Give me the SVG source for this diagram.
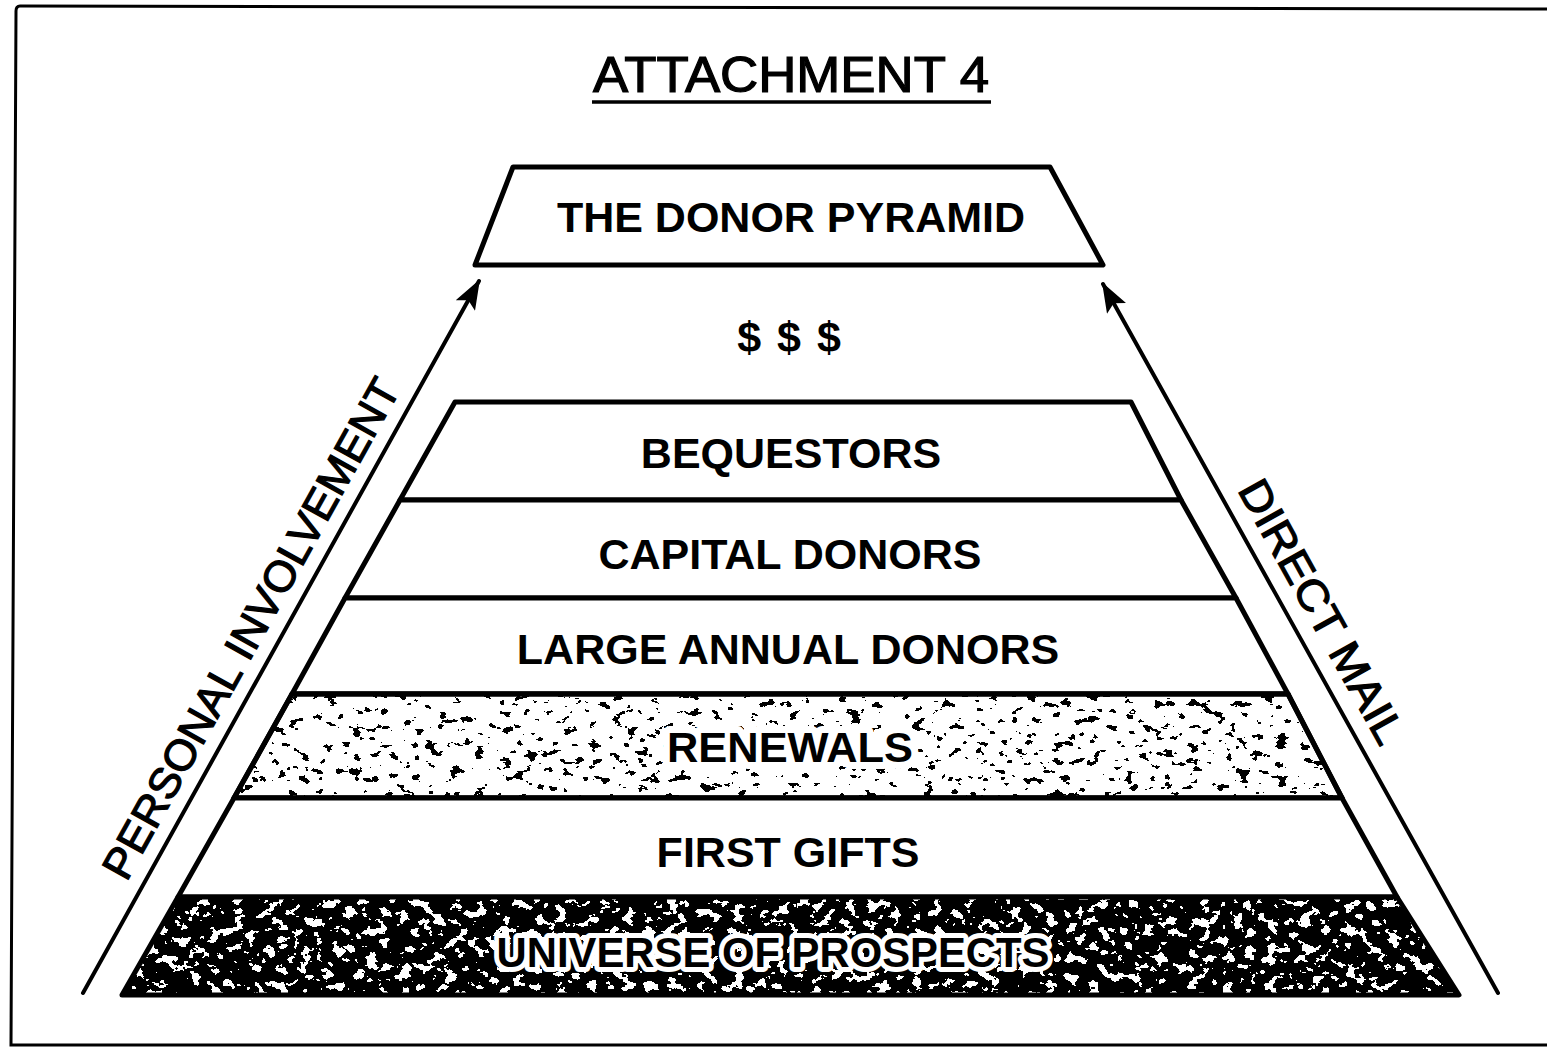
<svg xmlns="http://www.w3.org/2000/svg" width="1547" height="1048" viewBox="0 0 1547 1048">
  <defs>
    <style>
      .band { fill: #fff; stroke: #000; stroke-width: 5; stroke-linejoin: round; }
      .edge { fill: none; stroke: #000; stroke-width: 5; stroke-linejoin: round; }
      .lbl { font-family: "Liberation Sans", Arial, Helvetica, sans-serif; font-weight: bold; font-size: 43px; fill: #000; text-anchor: middle; }
      .side { font-family: "Liberation Sans", Arial, Helvetica, sans-serif; font-size: 43px; fill: #000; stroke: #000; stroke-width: 1.2; text-anchor: middle; }
      .halo { paint-order: stroke; stroke: #fff; stroke-linejoin: round; }
      .conn { fill: none; stroke: #000; stroke-width: 4; stroke-linecap: round; }
    </style>
    <marker id="head" viewBox="0 0 30 22" refX="28" refY="11" markerWidth="30" markerHeight="22" markerUnits="userSpaceOnUse" orient="auto">
      <path d="M0,0 L30,11 L0,22 L6,11 Z" fill="#000"/>
    </marker>
    <!-- sparse black grain for the light band -->
    <filter id="grainLight" x="0" y="0" width="1" height="1" color-interpolation-filters="sRGB">
      <feTurbulence type="fractalNoise" baseFrequency="0.08 0.12" numOctaves="3" seed="7" result="noise"/>
      <feColorMatrix in="noise" type="matrix" values="0 0 0 0 0  0 0 0 0 0  0 0 0 0 0  1 0 0 0 0" result="a"/>
      <feComponentTransfer in="a" result="t">
        <feFuncA type="discrete" tableValues="0 0 0 0 0 0 0 0 0 0 0 0 0 1 1 1 1 1 1 1"/>
      </feComponentTransfer>
      <feComposite in="t" in2="SourceAlpha" operator="in"/>
    </filter>
    <!-- white flecks over the dark base band -->
    <filter id="grainDark" x="0" y="0" width="1" height="1" color-interpolation-filters="sRGB">
      <feTurbulence type="fractalNoise" baseFrequency="0.09 0.11" numOctaves="3" seed="21" result="noise"/>
      <feColorMatrix in="noise" type="matrix" values="0 0 0 0 1  0 0 0 0 1  0 0 0 0 1  1 0 0 0 0" result="a"/>
      <feComponentTransfer in="a" result="t">
        <feFuncA type="discrete" tableValues="0 0 0 0 0 0 1 1 1 1"/>
      </feComponentTransfer>
      <feComposite in="t" in2="SourceAlpha" operator="in"/>
    </filter>
  </defs>

  <rect width="1547" height="1048" fill="#fff"/>

  <!-- page frame -->
  <path d="M1547,9 L20,6 Q16,6 16,11 L11,1045 L1547,1045" fill="none" stroke="#000" stroke-width="3"/>

  <!-- heading -->
  <g id="title">
    <text x="791" y="92" font-family="'Liberation Sans', Arial, sans-serif" font-size="50" stroke="#000" stroke-width="1.2" text-anchor="middle" textLength="396" lengthAdjust="spacingAndGlyphs">ATTACHMENT 4</text>
    <line x1="592" y1="102" x2="991" y2="102" stroke="#000" stroke-width="3.5"/>
  </g>

  <!-- cap of the pyramid -->
  <g id="cap">
    <polygon class="band" points="513,167 1050,167 1103,265 475,265"/>
    <text class="lbl" x="791" y="232">THE DONOR PYRAMID</text>
  </g>

  <g id="dollars">
    <text class="lbl" x="790" y="352" font-size="35" letter-spacing="2">$ $ $</text>
  </g>

  <!-- pyramid tiers, top to bottom -->
  <g id="bequestors">
    <polygon class="band" points="455,402 1131,402 1181,500 400,500"/>
    <text class="lbl" x="791" y="468">BEQUESTORS</text>
  </g>

  <g id="capital-donors">
    <polygon class="band" points="400,500 1181,500 1236,598 345,598"/>
    <text class="lbl" x="790" y="569">CAPITAL DONORS</text>
  </g>

  <g id="large-annual-donors">
    <polygon class="band" points="345,598 1236,598 1288,694 292,694"/>
    <text class="lbl" x="788" y="664">LARGE ANNUAL DONORS</text>
  </g>

  <g id="renewals">
    <polygon class="band" points="292,694 1288,694 1342,798 234,798"/>
    <polygon points="292,694 1288,694 1342,798 234,798" fill="#000" filter="url(#grainLight)"/>
    <polygon class="edge" points="292,694 1288,694 1342,798 234,798"/>
    <text class="lbl halo" x="790" y="762" stroke-width="14" textLength="246" lengthAdjust="spacingAndGlyphs">RENEWALS</text>
  </g>

  <g id="first-gifts">
    <polygon class="band" points="234,798 1342,798 1397,897 178,897"/>
    <text class="lbl" x="788" y="867">FIRST GIFTS</text>
  </g>

  <g id="universe-of-prospects">
    <polygon points="178,897 1397,897 1459,995 122,995" fill="#000"/>
    <polygon points="178,897 1397,897 1459,995 122,995" fill="#fff" filter="url(#grainDark)"/>
    <polygon class="edge" points="178,897 1397,897 1459,995 122,995"/>
    <text class="lbl halo" x="773" y="967" font-size="48" stroke-width="10" textLength="553" lengthAdjust="spacingAndGlyphs">UNIVERSE OF PROSPECTS</text>
  </g>

  <!-- the two rising arrows -->
  <g id="connectors">
    <line class="conn" x1="83" y1="993" x2="479" y2="281" marker-end="url(#head)"/>
    <line class="conn" x1="1498" y1="993" x2="1103" y2="284" marker-end="url(#head)"/>
  </g>

  <g id="personal-involvement">
    <text class="side" transform="translate(277,643) rotate(-60.9)" x="0" y="-15" textLength="565" lengthAdjust="spacingAndGlyphs">PERSONAL INVOLVEMENT</text>
  </g>

  <g id="direct-mail">
    <text class="side" transform="translate(1294,627) rotate(60.9)" x="0" y="-17" textLength="295" lengthAdjust="spacingAndGlyphs">DIRECT MAIL</text>
  </g>
</svg>
